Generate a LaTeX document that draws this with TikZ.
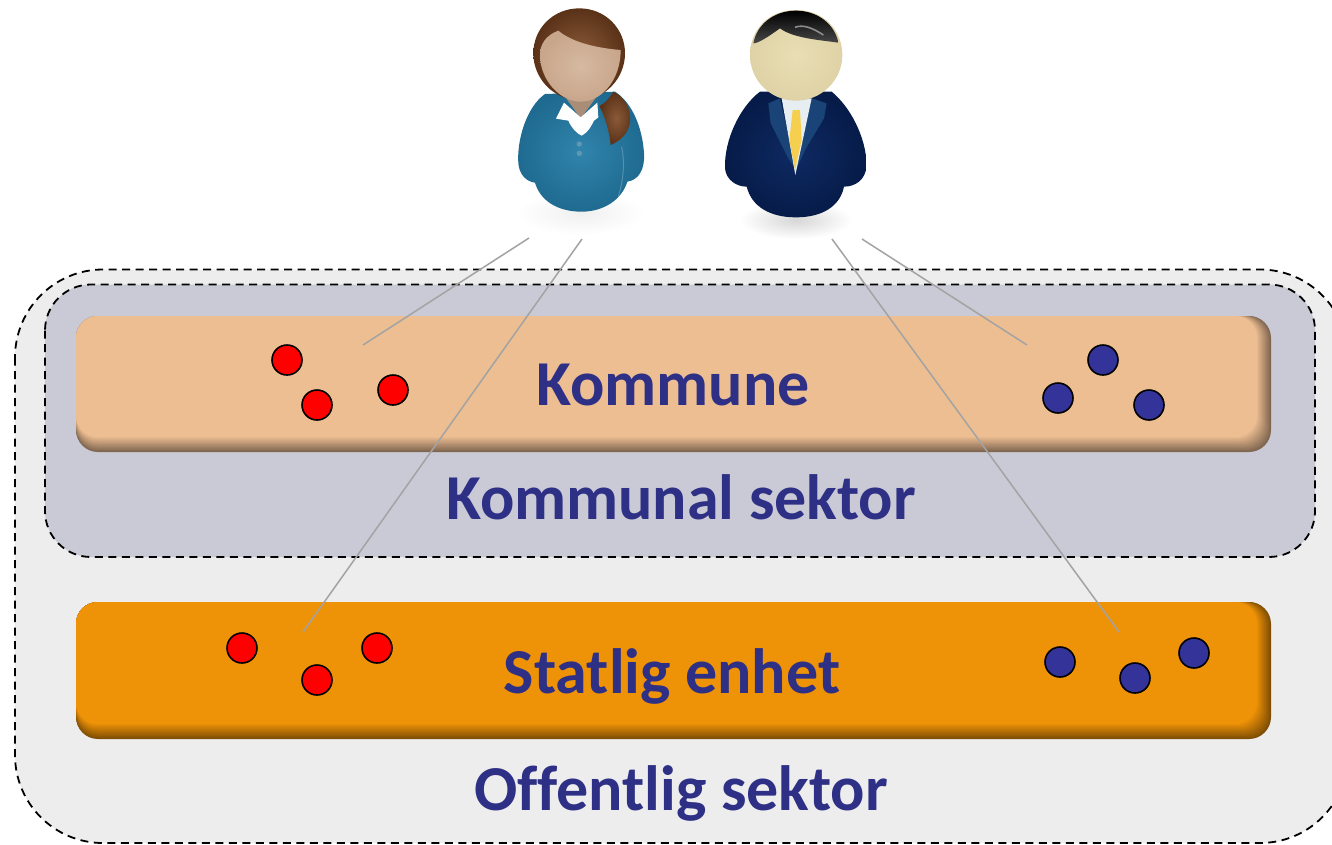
\documentclass[tikz,border=0pt]{standalone}
\usepackage{fontspec}
\setmainfont{Carlito}[Ligatures=NoCommon]
\usetikzlibrary{calc}
\definecolor{txtblue}{HTML}{2E3085}
\definecolor{dotblue}{HTML}{333399}
\definecolor{outerfill}{HTML}{EDEDEE}
\definecolor{innerfill}{HTML}{CACAD6}
\definecolor{peach}{HTML}{EDBE92}
\definecolor{peachdark}{HTML}{7F6650}
\definecolor{amber}{HTML}{EE9207}
\definecolor{amberdark}{HTML}{7F4E04}
\definecolor{wbodyin}{HTML}{3084AC}
\definecolor{wbodyout}{HTML}{1F6A90}
\definecolor{whairin}{HTML}{8A5A38}
\definecolor{whairout}{HTML}{5A3218}
\definecolor{wface}{HTML}{C8A68C}
\definecolor{wfacein}{HTML}{D6B9A1}
\definecolor{mbodyin}{HTML}{0E2A63}
\definecolor{mbodyout}{HTML}{061B48}
\definecolor{mlapel}{HTML}{1A4477}
\definecolor{mface}{HTML}{E9DEB4}
\definecolor{mfaceout}{HTML}{DFD2A6}
\definecolor{mtie}{HTML}{F6CF4E}
\definecolor{mshirt}{HTML}{E6EEF2}
\tikzset{
  sector/.style={draw=black,line width=1.8pt,dash pattern=on 8pt off 5.5pt},
  dot/.style={circle,draw=black,line width=1.6pt,minimum size=30pt,inner sep=0pt},
  reddot/.style={dot,fill=red},
  bluedot/.style={dot,fill=dotblue},
  lbl/.style={text=txtblue,font=\bfseries\fontsize{64}{64}\selectfont,inner sep=0pt,anchor=base},
  link/.style={draw=black!36,line width=1.5pt},
}
\newcommand{\bevelbox}[6]{%
  \foreach \i in {0,...,14}{
    \pgfmathsetmacro{\mx}{\i*100/14}
    \pgfmathsetmacro{\ex}{#3-\i*1.0}
    \pgfmathsetmacro{\ey}{#4-\i*1.05}
    \fill[color=#5!\mx!#6,rounded corners=22pt] (#1,#2) rectangle (\ex,\ey);
  }%
}
\begin{document}
\begin{tikzpicture}[x=1pt,y=-1pt]
\useasboundingbox (0,0) rectangle (1332,844);
\clip (0,0) rectangle (1332,844);
\fill[white] (0,0) rectangle (1332,844);

% sectors
\path[sector,fill=outerfill,rounded corners=88pt] (15,269.5) rectangle (1348,843);
\path[sector,fill=innerfill,rounded corners=46pt] (45,284.5) rectangle (1315,557);

% units
\bevelbox{76}{316}{1271}{452}{peach}{peachdark}
\bevelbox{76}{602}{1271}{739}{amber}{amberdark}

% soft shadows under the figures
\shade[inner color=black!6,outer color=white] (581,213) ellipse (64 and 22);
\shade[inner color=black!16,outer color=white] (796,220) ellipse (56 and 19);

% woman
\begin{scope}[shift={(490,0)},scale=1/3]
  \shade[inner color=wbodyin,outer color=wbodyout]
    (165,282) .. controls (110,320) and (80,420) .. (85,490)
    .. controls (88,525) and (110,545) .. (135,548)
    .. controls (150,600) and (200,635) .. (275,635)
    .. controls (340,635) and (395,600) .. (412,545)
    .. controls (445,540) and (465,510) .. (462,460)
    .. controls (458,390) and (430,310) .. (375,275) -- cycle;
  \draw[white,opacity=0.22,line width=1pt] (385,590) .. controls (400,540) and (405,490) .. (395,440);
  \fill[wface!85!black] (225,290) -- (320,290) -- (272,355) -- cycle;
  \fill[white] (222,308) -- (198,356) -- (235,362) .. controls (245,385) and (260,400) .. (275,407)
     .. controls (295,398) and (305,375) .. (312,362) -- (325,352) -- (322,308)
     -- (272,352) -- cycle;
  \fill[wbodyout!70!white] (268,432) circle (8);
  \fill[wbodyout!70!white] (268,460) circle (8);
  \shade[inner color=whairin,outer color=whairout]
     (268,25) .. controls (190,25) and (130,85) .. (130,160)
     .. controls (130,235) and (190,300) .. (268,300)
     .. controls (345,300) and (405,235) .. (405,160)
     .. controls (405,85) and (345,25) .. (268,25) -- cycle;
  \shade[inner color=wfacein,outer color=wface]
     (205,92) .. controls (170,105) and (150,130) .. (150,165)
     .. controls (150,240) and (210,305) .. (272,305)
     .. controls (335,305) and (392,240) .. (392,150)
     .. controls (330,145) and (250,130) .. (205,92) -- cycle;
  \shade[inner color=whairin,outer color=whairout]
     (370,275) .. controls (415,295) and (430,350) .. (415,385)
     .. controls (405,410) and (385,425) .. (362,435)
     .. controls (358,395) and (345,350) .. (328,318)
     .. controls (345,310) and (358,295) .. (370,275) -- cycle;
\end{scope}

% man
\begin{scope}[shift={(700,0)},scale=1/3]
  \shade[inner color=mbodyin,outer color=mbodyout]
    (180,275) .. controls (120,320) and (72,420) .. (75,505)
    .. controls (78,540) and (110,560) .. (140,560)
    .. controls (155,620) and (210,652) .. (288,652)
    .. controls (365,652) and (420,620) .. (432,560)
    .. controls (465,560) and (498,540) .. (500,495)
    .. controls (498,410) and (450,320) .. (395,275) -- cycle;
  \fill[mlapel] (205,310) -- (240,295) -- (288,510) -- (262,470) -- (212,370) -- cycle;
  \fill[mlapel] (380,310) -- (335,295) -- (288,510) -- (315,450) -- (372,355) -- cycle;
  \fill[mshirt] (245,295) -- (335,295) -- (286,525) -- cycle;
  \fill[mtie] (278,330) -- (300,330) -- (305,420) -- (285,510) -- (268,420) -- cycle;
  \shade[inner color=mface,outer color=mfaceout]
     (288,30) .. controls (205,30) and (150,90) .. (150,165)
     .. controls (150,240) and (210,302) .. (288,302)
     .. controls (365,302) and (427,240) .. (427,165)
     .. controls (427,90) and (370,30) .. (288,30) -- cycle;
  \shade[top color=black,bottom color=black!72]
     (288,32) .. controls (220,32) and (170,75) .. (160,130)
     .. controls (175,130) and (205,110) .. (240,85)
     .. controls (280,115) and (360,120) .. (415,128)
     .. controls (405,75) and (355,32) .. (288,32) -- cycle;
  \draw[black!45,line width=1.6pt] (285,82) .. controls (310,72) and (340,85) .. (370,105);
\end{scope}

% dots
\node[reddot] (r1) at (287,360) {};
\node[reddot] (r2) at (317,405) {};
\node[reddot] (r3) at (393,390) {};
\node[reddot] (r4) at (242,648) {};
\node[reddot] (r5) at (317,680) {};
\node[reddot] (r6) at (377,648) {};
\node[bluedot] (b1) at (1103,360) {};
\node[bluedot] (b2) at (1058,398) {};
\node[bluedot] (b3) at (1149,405) {};
\node[bluedot] (b4) at (1060,662) {};
\node[bluedot] (b5) at (1135,678) {};
\node[bluedot] (b6) at (1194,653) {};

% labels
\node[lbl] (kommune) at (673,405.5) {Kommune};
\node[lbl] (ksektor) at (681,519.5) {Kommunal sektor};
\node[lbl] (statlig) at (672,693) {Statlig enhet};
\node[lbl] (osektor) at (681,810) {Offentlig sektor};

% links
\coordinate (wa) at (529,238);
\coordinate (wb) at (582,239);
\coordinate (ma) at (832,239);
\coordinate (mb) at (862,239);
\coordinate (wk) at (363,345);
\coordinate (ws) at (303,632);
\coordinate (ms) at (1119,632);
\coordinate (mk) at (1027,345);
\draw[link] (wa) -- (wk);
\draw[link] (wb) -- (ws);
\draw[link] (ma) -- (ms);
\draw[link] (mb) -- (mk);
\end{tikzpicture}
\end{document}
